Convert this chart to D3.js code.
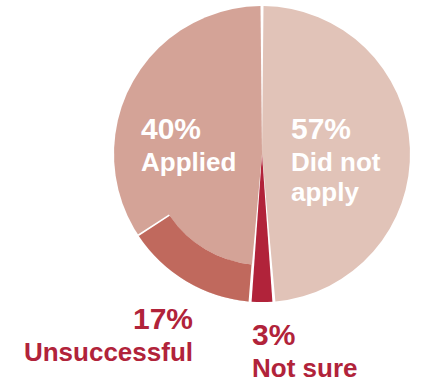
<!DOCTYPE html>
<html>
<head>
<meta charset="utf-8">
<script src="https://cdn.jsdelivr.net/npm/d3@7"></script>
<style>
  html, body { margin: 0; padding: 0; background: #fff; }
  svg { display: block; }
  text { font-family: "Liberation Sans", Arial, sans-serif; font-weight: bold; }
</style>
</head>
<body>
<svg id="chart" width="424" height="383"></svg>
<script>
// Survey answers, drawn in this order clockwise from 12 o'clock
const categories = ["Did not apply", "Not sure", "Unsuccessful", "Applied"];
const values = [57, 3, 17, 40];
const percentLabels = ["57%", "3%", "17%", "40%"];
const nameLabels = [["Did not", "apply"], ["Not sure"], ["Unsuccessful"], ["Applied"]];
const colors = ["#e1c3b8", "#b1233a", "#c0695d", "#d4a397"];
const labelRed = "#b1233a";

const svg = d3.select("#chart");
const cx = 262, cy = 154, R = 148, ringInner = 111;
const gap = 3;

const g = svg.append("g").attr("transform", `translate(${cx},${cy})`);

const pie = d3.pie().sort(null).value(d => d);
const slices = pie(values);
const byName = {};
slices.forEach((s, i) => { byName[categories[i]] = s; });

const arc = d3.arc()
  .innerRadius(0)
  .outerRadius(R)
  .padAngle(gap / R)
  .padRadius(R);

// "Did not apply" and "Not sure" wedges
["Did not apply", "Not sure"].forEach(name => {
  const s = byName[name];
  g.append("path")
    .attr("d", arc(s))
    .attr("fill", colors[categories.indexOf(name)]);
});

// "Applied" wedge, which also fills the hub under the "Unsuccessful" band
const uns = byName["Unsuccessful"], app = byName["Applied"];
g.append("path")
  .attr("d", arc({ startAngle: uns.startAngle, endAngle: app.endAngle }))
  .attr("fill", colors[3]);

// "Unsuccessful" outer band, separated from the rest by white gaps
const ring = d3.arc().innerRadius(ringInner).outerRadius(R);
g.append("path")
  .attr("d", ring({ startAngle: uns.startAngle, endAngle: uns.endAngle + 0.002 }))
  .attr("fill", "#fff");
g.append("path")
  .attr("d", ring.padAngle(gap / R).padRadius(R)({ startAngle: uns.startAngle, endAngle: uns.endAngle }))
  .attr("fill", colors[2]);

// Labels
const pctSize = 30, nameSize = 26;
function label(x, y, lines, anchor, fill) {
  const t = svg.append("text")
    .attr("text-anchor", anchor)
    .attr("fill", fill);
  lines.forEach(ln => {
    t.append("tspan")
      .attr("x", x)
      .attr("y", y + ln.dy)
      .attr("font-size", ln.size)
      .text(ln.text);
  });
}

// inside labels
label(141, 139, [
  { text: percentLabels[3], size: pctSize, dy: 0 },
  { text: nameLabels[3][0], size: nameSize, dy: 32 }
], "start", "#fff");

label(291, 139, [
  { text: percentLabels[0], size: pctSize, dy: 0 },
  { text: nameLabels[0][0], size: nameSize, dy: 32 },
  { text: nameLabels[0][1], size: nameSize, dy: 62 }
], "start", "#fff");

// outside labels
label(193, 329, [
  { text: percentLabels[2], size: pctSize, dy: 0 },
  { text: nameLabels[2][0], size: nameSize, dy: 32 }
], "end", labelRed);

label(252, 345, [
  { text: percentLabels[1], size: pctSize, dy: 0 },
  { text: nameLabels[1][0], size: nameSize, dy: 32 }
], "start", labelRed);
</script>
</body>
</html>
